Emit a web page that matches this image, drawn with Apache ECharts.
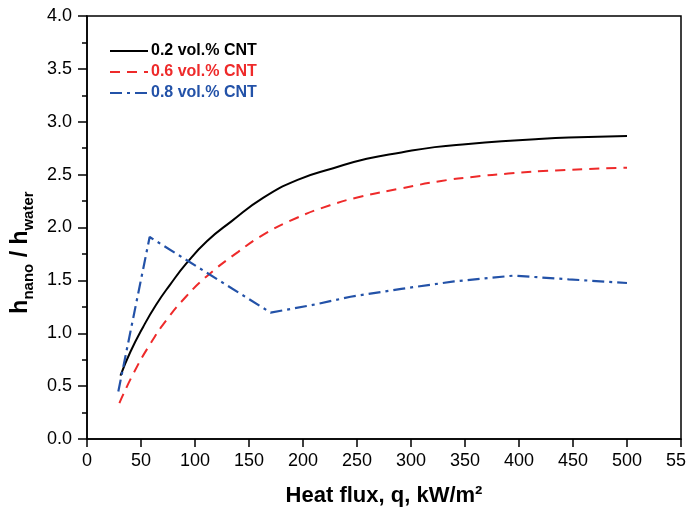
<!DOCTYPE html>
<html>
<head>
<meta charset="utf-8">
<script src="https://cdn.jsdelivr.net/npm/echarts@6/dist/echarts.min.js"></script>
<style>html,body{margin:0;padding:0;background:#fff}#c{width:686px;height:510px}</style>
</head>
<body>
<div id="c"></div>
<script>
var seriesNames = ['0.2 vol.% CNT', '0.6 vol.% CNT', '0.8 vol.% CNT'];
var blackX = [31, 40, 52, 64, 77, 92, 111, 134, 163, 195, 228, 259, 291, 322, 353, 384, 415, 446, 500];
var blackY = [0.60, 0.82, 1.06, 1.27, 1.46, 1.66, 1.87, 2.06, 2.28, 2.45, 2.56, 2.65, 2.71, 2.76, 2.79, 2.815, 2.835, 2.85, 2.865];
var redX = [30, 43, 58, 74, 92, 111, 140, 163, 194, 225, 253, 291, 328, 359, 390, 434, 500];
var redY = [0.34, 0.62, 0.89, 1.13, 1.35, 1.54, 1.77, 1.93, 2.09, 2.21, 2.29, 2.37, 2.44, 2.48, 2.51, 2.54, 2.565];
var blueX = [29, 58, 170, 210, 244, 291, 340, 395, 446, 500];
var blueY = [0.45, 1.91, 1.195, 1.27, 1.345, 1.42, 1.49, 1.545, 1.51, 1.475];
var xTicks = [0, 50, 100, 150, 200, 250, 300, 350, 400, 450, 500, 550];
var yTicks = [0.0, 0.5, 1.0, 1.5, 2.0, 2.5, 3.0, 3.5, 4.0];

function pairs(xs, ys) { return xs.map(function (x, i) { return [x, ys[i]]; }); }

var colors = ['#000000', '#ee2a2a', '#2352a8'];
var font = 'Liberation Sans, Arial, sans-serif';

var chart = echarts.init(document.getElementById('c'), null, {renderer: 'canvas'});
chart.setOption({
  animation: false,
  backgroundColor: '#fff',
  grid: {left: 87, right: 5, top: 16, bottom: 71, show: true, borderColor: '#000', borderWidth: 1.5,
    backgroundColor: 'transparent', containLabel: false, outerBoundsMode: 'none'},
  legend: {
    orient: 'vertical', left: 109, top: 43, padding: 0, itemWidth: 38, itemHeight: 14, itemGap: 5,
    itemStyle: {opacity: 0},
    data: seriesNames.map(function (n, i) {
      return {name: n, textStyle: {color: colors[i], fontWeight: 'bold', fontSize: 16, fontFamily: font, lineHeight: 14}};
    }),
    textStyle: {fontSize: 16, fontWeight: 'bold', fontFamily: font, lineHeight: 14, padding: [0, 0, 0, -2]}
  },
  xAxis: {
    type: 'value', min: xTicks[0], max: xTicks[xTicks.length - 1], interval: 50,
    name: 'Heat flux, q, kW/m²', nameLocation: 'middle', nameGap: 46,
    nameTextStyle: {fontSize: 22, fontWeight: 'bold', fontFamily: font, color: '#000'},
    axisLine: {show: true, lineStyle: {color: '#000', width: 1.5}},
    axisTick: {show: true, inside: false, length: 8, lineStyle: {color: '#000', width: 1.5}},
    axisLabel: {fontSize: 18, fontFamily: font, color: '#000', margin: 13, hideOverlap: false},
    splitLine: {show: false}
  },
  yAxis: {
    type: 'value', min: yTicks[0], max: yTicks[yTicks.length - 1], interval: 0.5,
    name: '{h|h}{s|nano}{h| / h}{s|water}', nameLocation: 'middle', nameGap: 49, nameRotate: 90,
    nameTextStyle: {
      fontFamily: font, color: '#000', padding: [0, 50, 0, 0],
      rich: {
        h: {fontSize: 23, fontWeight: 'bold', fontFamily: font, color: '#000', lineHeight: 30, verticalAlign: 'middle'},
        s: {fontSize: 15, fontWeight: 'bold', fontFamily: font, color: '#000', lineHeight: 15, verticalAlign: 'bottom'}
      }
    },
    axisLine: {show: true, lineStyle: {color: '#000', width: 1.5}},
    axisTick: {show: true, inside: false, length: 9, lineStyle: {color: '#000', width: 1.5}},
    minorTick: {show: true, splitNumber: 2, length: 5, lineStyle: {color: '#000', width: 1.5}},
    axisLabel: {fontSize: 18, fontFamily: font, color: '#000', margin: 15, formatter: function (v) { return v.toFixed(1); }},
    splitLine: {show: false}
  },
  series: [
    {name: seriesNames[0], type: 'line', data: pairs(blackX, blackY), symbol: 'none', smooth: 0.5,
      lineStyle: {color: colors[0], width: 2, type: 'solid'}, itemStyle: {color: colors[0]}},
    {name: seriesNames[1], type: 'line', data: pairs(redX, redY), symbol: 'none', smooth: 0.5,
      lineStyle: {color: colors[1], width: 2, type: [10, 7]}, itemStyle: {color: colors[1]}},
    {name: seriesNames[2], type: 'line', data: pairs(blueX, blueY), symbol: 'none', smooth: false,
      lineStyle: {color: colors[2], width: 2.2, type: [12, 5, 3, 5]}, itemStyle: {color: colors[2]}}
  ]
});
</script>
</body>
</html>
